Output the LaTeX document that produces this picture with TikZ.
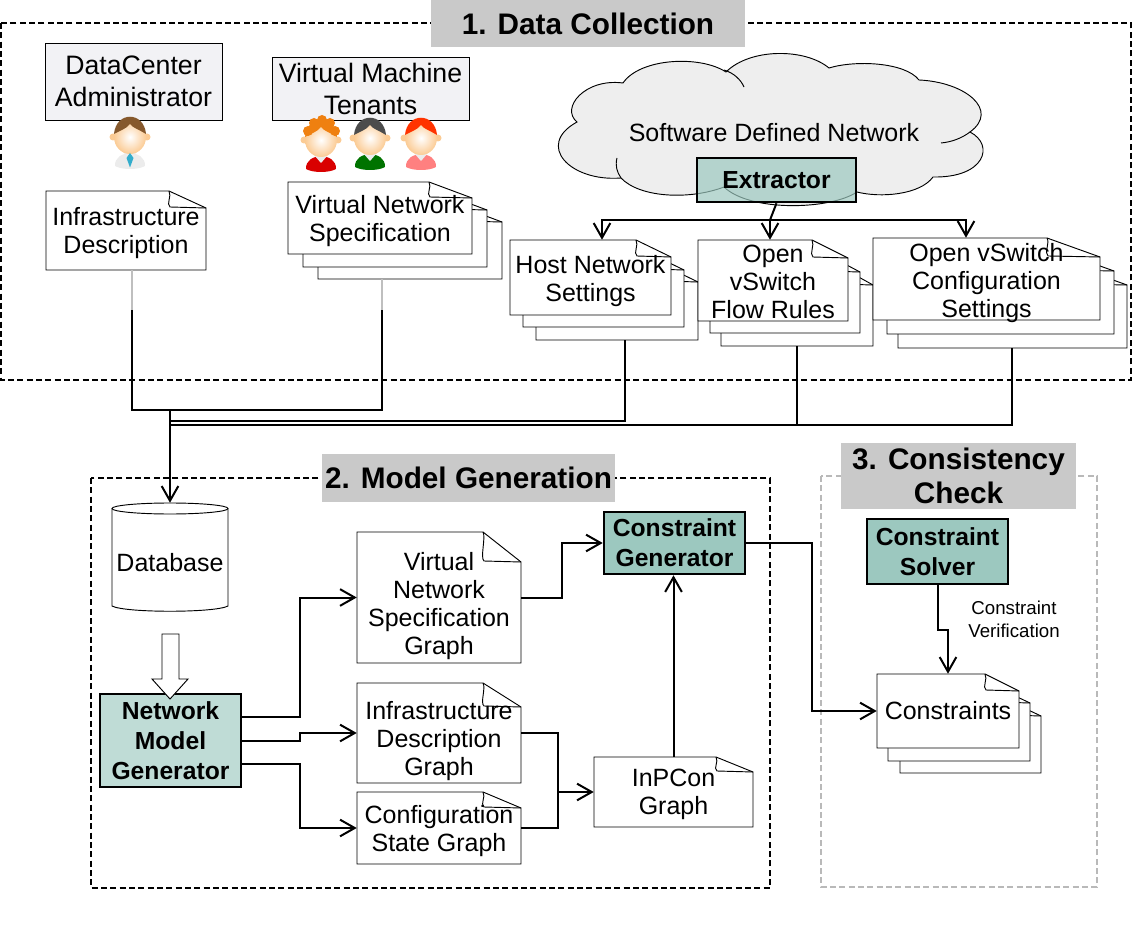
\documentclass[tikz,border=0pt]{standalone}
\usepackage{fontspec}
\setmainfont{Liberation Sans}
\usetikzlibrary{arrows.meta,calc}
\definecolor{sectgray}{HTML}{C9C9C9}
\definecolor{actorfill}{HTML}{F2F2F5}
\definecolor{cloudfill}{HTML}{EEEEEE}
\definecolor{tealmid}{HTML}{BFDCD6}
\definecolor{tealdark}{HTML}{9CC8BF}
\definecolor{skin}{HTML}{FBCB94}
\tikzset{
  conn/.style={-{Straight Barb[length=11pt,width=12.5pt]}, line width=1.5pt, black},
  wire/.style={line width=1.5pt, black},
  faint/.style={line width=1.5pt, gray!50},
  sect/.style={fill=sectgray, inner sep=0pt, align=center, font=\fontsize{22.3}{26}\selectfont\bfseries},
  actor/.style={draw, line width=0.7pt, fill=actorfill, inner sep=0pt, align=center, font=\fontsize{20}{24}\selectfont},
  proc/.style={draw, line width=1.9pt, inner sep=0pt, align=center, font=\fontsize{18.5}{22.5}\selectfont\bfseries},
  sheet/.style={draw, line width=0.7pt, fill=white},
  curl/.style={line width=0.7pt},
  plain/.style={inner sep=0pt, align=center, font=\fontsize{18.75}{21}\selectfont},
  small/.style={inner sep=0pt, align=center, font=\fontsize{14}{17}\selectfont},
  blackdash/.style={line width=1.2pt, dash pattern=on 4.5pt off 2.5pt},
  graydash/.style={line width=1.2pt, gray!55, dash pattern=on 4.5pt off 2.5pt},
}
% left, top, right, bottom, fold x, fold y
\newcommand{\sheetpage}[6]{
  \draw[sheet] (#1,#2) -- (#5,#2) -- (#3,#6) -- (#3,#4) -- (#1,#4) -- cycle;
  \draw[curl] (#5,#2) .. controls ({#5+3},{#2+5}) and ({#5-3},{#6-4}) .. ({#5+1},{#6-1}) -- (#3,#6);
}
% text shift, name, left, top, right, bottom, fold x, fold y, text
\newcommand{\docpage}[9][-2.25pt]{
  \sheetpage{#3}{#4}{#5}{#6}{#7}{#8}
  \node[inner sep=0pt, minimum width={(#5-#3)*0.75pt}, minimum height={(#6-#4)*0.75pt},
    label={[plain,yshift=#1]center:{#9}}] (#2) at ({(#3+#5)/2},{(#4+#6)/2}) {};
}
% x, y of head, hair, shirt
\newcommand{\personicon}[4]{
  \fill[#4] ({#1-15},{#2+29}) .. controls ({#1-16},{#2+12}) and ({#1+16},{#2+12}) .. ({#1+15},{#2+29})
    .. controls ({#1+8},{#2+33}) and ({#1-8},{#2+33}) .. cycle;
  \fill[white!85!gray] ({#1-7},{#2+15}) -- ({#1+7},{#2+15}) -- (#1,{#2+23}) -- cycle;
  \fill[skin] ({#1-17},{#2}) circle (3.5);
  \fill[skin] ({#1+17},{#2}) circle (3.5);
  \shade[inner color=white, outer color=skin] (#1,#2) ellipse [x radius=16, y radius=17];
  \fill[#3] ({#1-16},{#2-3}) .. controls ({#1-14},{#2-26}) and ({#1+14},{#2-26}) .. ({#1+16},{#2-3})
    .. controls ({#1+8},{#2-8}) and ({#1+3},{#2-9}) .. (#1,{#2-13})
    .. controls ({#1-4},{#2-8}) and ({#1-9},{#2-7}) .. cycle;
}

\begin{document}
\begin{tikzpicture}[x=0.75pt,y=-0.75pt]
  \useasboundingbox (0,0) rectangle (1132,927);

  % --- dashed frames ---
  \draw[blackdash] (1,23) rectangle (1131,380);
  \draw[blackdash] (91,478) rectangle (770,888);
  \draw[graydash] (821,476) rectangle (1097,887);
  \node[sect, minimum width={314*0.75pt}, minimum height={47*0.75pt}] (sectone) at (588,23.5) {1. Data Collection};
  \node[sect, minimum width={293*0.75pt}, minimum height={48*0.75pt}] (secttwo) at (468.5,478) {2. Model Generation};
  \node[sect, minimum width={235*0.75pt}, minimum height={66*0.75pt}] (sectthree) at (958.5,476) {3. Consistency\\Check};

  % --- people ---
  \node[actor, minimum width={177*0.75pt}, minimum height={77*0.75pt}] (admin) at (133.5,81.5) {DataCenter\\Administrator};
  \node[actor, minimum width={197*0.75pt}, minimum height={63*0.75pt}] (tenants) at (370.5,88.5) {Virtual Machine\\Tenants};
  \personicon{130}{137}{brown!70!black}{gray!15}
  \fill[blue!20!cyan!60!gray] (130,153) -- (133.5,158) -- (130,167.5) -- (126.5,158) -- cycle;
  \personicon{321}{140}{orange!75!brown}{red!85!black}
  \foreach \xx/\yy in {-13/-9,-7/-17,1/-20,9/-17,14/-9}{ \fill[orange!75!brown] ({321+\xx},{140+\yy}) circle (5); }
  \personicon{370}{138}{black!70}{green!45!black}
  \personicon{421}{138}{red!60!orange}{red!50!white}

  % --- cloud ---
  \draw[fill=cloudfill, line width=0.7pt] (577,122)
    .. controls (560,108) and (585,78) .. (623,83)
    .. controls (640,58) and (700,55) .. (726,72)
    .. controls (750,48) and (805,48) .. (829,68)
    .. controls (855,60) and (905,62) .. (919,80)
    .. controls (965,82) and (1000,110) .. (970,132)
    .. controls (995,145) and (985,178) .. (933,177)
    .. controls (920,195) and (880,198) .. (857,192)
    .. controls (830,210) and (750,212) .. (724,187)
    .. controls (690,200) and (640,198) .. (621,178)
    .. controls (570,182) and (535,145) .. (577,122) -- cycle;
  \draw[line width=0.7pt] (617,158) .. controls (615,166) and (617,172) .. (621,178);
  \draw[line width=0.7pt] (724,70) .. controls (734,73) and (741,80) .. (744,87);
  \draw[line width=0.7pt] (941,143) .. controls (952,142) and (962,138) .. (970,132);
  \node[plain] (sdn) at (774,133) {Software Defined Network};
  \node[proc, fill=tealdark, fill opacity=0.7, text opacity=1, minimum width={159*0.75pt}, minimum height={44*0.75pt}] (extractor) at (776.5,180) {Extractor};

  % --- collected files ---
  \docpage{infradesc}{46}{191}{206}{270}{169}{208}{Infrastructure\\Description}
  \sheetpage{318}{206}{502}{279}{459}{222}
  \sheetpage{303}{194}{487}{267}{444}{210}
  \docpage{vnsspec}{288}{182}{472}{254}{429}{198}{Virtual Network\\Specification}
  \sheetpage{536}{265}{698}{340}{663}{282}
  \sheetpage{523}{253}{684}{327}{649}{270}
  \docpage[-3pt]{hostset}{510}{240}{671}{315}{636}{257}{Host Network\\Settings}
  \sheetpage{721}{265}{873}{346}{837}{285}
  \sheetpage{710}{253}{860}{333}{824}{272}
  \docpage[-1pt]{flowrules}{698}{240}{848}{321}{812}{258}{Open\\vSwitch\\Flow Rules}
  \sheetpage{898}{266}{1127}{348}{1074}{285}
  \sheetpage{887}{252}{1114}{334}{1061}{271}
  \docpage[-3.25pt]{ovsconf}{873}{238}{1100}{320}{1047}{257}{Open vSwitch\\Configuration\\Settings}

  % --- extractor outputs ---
  \coordinate (hub) at (770,220);
  \draw[wire] (extractor.south) -- (hub);
  \draw[conn] (hub) -| ($(hostset.north)+(11.5,0)$);
  \draw[conn] (hub) -| ($(flowrules.north)+(-3,0)$);
  \draw[conn] (hub) -| ($(ovsconf.north)+(-20.5,0)$);

  % --- into the database ---
  \draw[fill=white, line width=0.7pt] (112,508.5) -- (112,606)
    .. controls (125,613) and (215,613) .. (228,606) -- (228,508.5);
  \draw[line width=0.7pt] (170,508.5) ellipse [x radius=58, y radius=5.5];
  \node[plain, minimum width={116*0.75pt}, minimum height={108*0.75pt}] (dbase) at (170,557) {};
  \node[plain] (dbtext) at (170,563) {Database};
  \coordinate (mergeup) at (170,410);
  \coordinate (mergemid) at (170,421);
  \coordinate (mergelow) at (170,425);
  \coordinate (infrabend) at (132,310);
  \coordinate (vnsbend) at (382,310);
  \draw[faint] ($(infradesc.south)+(6,0)$) -- (infrabend);
  \draw[faint] ($(vnsspec.south)+(2,25)$) -- (vnsbend);
  \draw[wire] (infrabend) |- (vnsbend |- mergeup) -- (vnsbend);
  \draw[wire] ($(hostset.south)+(34.5,25)$) |- (mergemid);
  \draw[wire] ($(flowrules.south)+(24,25)$) |- (mergelow);
  \draw[wire] ($(ovsconf.south)+(25.5,28)$) |- (mergelow);
  \draw[conn] (mergeup) -- (dbase.north);

  % --- model generation ---
  \node[proc, fill=tealmid, minimum width={141*0.75pt}, minimum height={93*0.75pt}] (nmg) at (170.5,740.5) {Network\\Model\\Generator};
  \draw[line width=0.7pt, fill=white] (162,634) -- (179,634) -- (179,679) -- (188,679) -- (170,699) -- (152,679) -- (162,679) -- cycle;
  \docpage[-6.75pt]{vnsgraph}{357}{532}{521}{663}{483}{562}{Virtual\\Network\\Specification\\Graph}
  \docpage[-6pt]{idgraph}{357}{683}{521}{783}{483}{707}{Infrastructure\\Description\\Graph}
  \docpage{csgraph}{357}{792}{521}{864}{483}{808}{Configuration\\State Graph}
  \docpage[-1.5pt]{inpcon}{594}{757}{753}{827}{716}{772}{InPCon\\Graph}
  \node[proc, fill=tealdark, minimum width={141*0.75pt}, minimum height={62*0.75pt}] (cgen) at (674.5,543) {Constraint\\Generator};
  \coordinate (jct) at (558,792);
  \draw[conn] ($(nmg.east)+(0,-23.5)$) -- ++(58,0) |- (vnsgraph.west);
  \draw[conn] (nmg.east) -- ++(58,0) |- (idgraph.west);
  \draw[conn] ($(nmg.east)+(0,23.5)$) -- ++(58,0) |- (csgraph.west);
  \draw[conn] (vnsgraph.east) -- ++(41,0) |- (cgen.west);
  \draw[wire] (idgraph.east) -- ++(37,0) |- (csgraph.east);
  \draw[conn] (jct) -- (inpcon.west);
  \draw[conn] (inpcon.north) -- (inpcon.north |- cgen.south);

  % --- consistency check ---
  \node[proc, fill=tealdark, minimum width={141*0.75pt}, minimum height={65*0.75pt}] (solver) at (937.5,551.5) {Constraint\\Solver};
  \sheetpage{900}{700}{1041}{773}{1007}{716}
  \sheetpage{888}{687}{1030}{761}{996}{703}
  \docpage[0pt]{constraints}{877}{674}{1019}{748}{985}{691}{Constraints}
  \node[small] (verify) at (1014,619.5) {Constraint\\Verification};
  \draw[conn] (solver.south) -- ++(0,45) -| (constraints.north);
  \draw[conn] (cgen.east) -- ++(66,0) |- (constraints.west);
\end{tikzpicture}
\end{document}
